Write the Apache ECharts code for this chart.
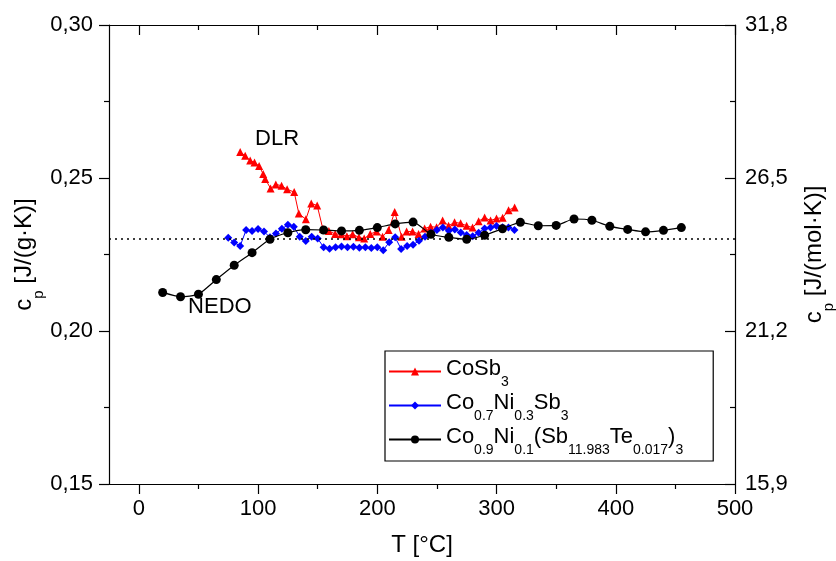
<!DOCTYPE html>
<html>
<head>
<meta charset="utf-8">
<script src="https://cdn.jsdelivr.net/npm/echarts@6/dist/echarts.min.js"></script>
<style>html,body{margin:0;padding:0;background:#fff}#c{width:836px;height:561px}</style>
</head>
<body>
<div id="c"></div>
<script>
// ---- data ----
const xTicks = [0, 100, 200, 300, 400, 500];
const xMinorTicks = [50, 150, 250, 350, 450];

const cosb3T = [85.0, 89.2, 93.4, 97.0, 100.9, 104.3, 106.0, 110.5, 114.9, 119.7, 124.4, 130.3, 134.2, 140.1, 144.6, 149.6, 154.4, 159.4, 164.7, 169.7, 174.5, 179.3, 184.6, 189.0, 194.1, 199.4, 204.4, 209.5, 214.6, 220.4, 224.6, 229.6, 234.6, 239.7, 244.7, 249.7, 254.8, 259.8, 264.8, 269.9, 274.9, 279.9, 285.0, 290.0, 295.0, 300.0, 305.1, 310.1, 315.2];
const cosb3Cp = [0.2585, 0.2573, 0.2557, 0.2551, 0.2539, 0.2513, 0.2497, 0.2466, 0.2479, 0.2475, 0.2463, 0.2454, 0.2384, 0.2365, 0.2417, 0.2410, 0.2333, 0.2327, 0.2317, 0.2316, 0.2310, 0.2316, 0.2306, 0.2302, 0.2317, 0.2325, 0.2308, 0.2330, 0.2389, 0.2308, 0.2325, 0.2325, 0.2317, 0.2335, 0.2341, 0.2339, 0.2361, 0.2344, 0.2355, 0.2352, 0.2344, 0.2338, 0.2359, 0.2371, 0.2361, 0.2368, 0.2370, 0.2395, 0.2404];

const niT = [75, 80, 85, 90, 95, 100, 105, 110, 115, 120, 125, 130, 135, 140, 145, 150, 155, 160, 165, 170, 175, 180, 185, 190, 195, 200, 205, 210, 215, 220, 225, 230, 235, 240, 245, 250, 255, 260, 265, 270, 275, 280, 285, 290, 295, 300, 305, 310, 315];
const niCp = [0.2305, 0.2289, 0.2278, 0.2330, 0.2327, 0.2333, 0.2325, 0.2306, 0.2319, 0.2334, 0.2347, 0.2341, 0.2308, 0.2294, 0.2308, 0.2302, 0.2274, 0.2269, 0.2274, 0.2276, 0.2274, 0.2275, 0.2272, 0.2274, 0.2271, 0.2274, 0.2264, 0.2290, 0.2306, 0.2268, 0.2278, 0.2282, 0.2295, 0.2308, 0.2321, 0.2330, 0.2338, 0.2328, 0.2332, 0.2322, 0.2314, 0.2310, 0.2321, 0.2335, 0.2338, 0.2343, 0.2339, 0.2338, 0.2330];

const teT = [20, 35, 50, 65, 80, 95, 110, 125, 140, 155, 170, 185, 200, 215, 230, 245, 260, 275, 290, 305, 320, 335, 350, 365, 380, 395, 410, 425, 440, 455];
const teCp = [0.2126, 0.2112, 0.2120, 0.2168, 0.2215, 0.2256, 0.2300, 0.2321, 0.2331, 0.2330, 0.2327, 0.2329, 0.2338, 0.2350, 0.2356, 0.2316, 0.2306, 0.2300, 0.2313, 0.2334, 0.2355, 0.2344, 0.2345, 0.2366, 0.2362, 0.2342, 0.2332, 0.2324, 0.2329, 0.2338];

const refLine = 0.23;
const annotations = [{ text: 'DLR', T: 116, cp: 0.2627 }, { text: 'NEDO', T: 68, cp: 0.2078 }];

const names = ['CoSb3', 'Co0.7Ni0.3Sb3', 'Co0.9Ni0.1(Sb11.983Te0.017)3'];
const legendRich = {
  'CoSb3': '{n|CoSb}{s|3}',
  'Co0.7Ni0.3Sb3': '{n|Co}{s|0.7}{n|Ni}{s|0.3}{n|Sb}{s|3}',
  'Co0.9Ni0.1(Sb11.983Te0.017)3': '{n|Co}{s|0.9}{n|Ni}{s|0.1}{n|(Sb}{s|11.983}{n|Te}{s|0.017}{n|)}{s|3}'
};

const zip = (a, b) => a.map((v, i) => [v, b[i]]);
const FONT = 'Liberation Sans, Arial, sans-serif';
const FS = 22;

const chart = echarts.init(document.getElementById('c'));
function makeRich(fs, sfs, drop) {
  const lh = Math.round(fs * 1.24);
  const base = lh / 2 + 0.3465 * fs;           // main baseline from line top
  const subCenter = base + drop + 0.716 * sfs - 0.3465 * sfs; // sub digit top near main baseline
  return {
    n: { fontSize: fs, fontFamily: FONT, color: '#000', lineHeight: lh, verticalAlign: 'top' },
    s: { fontSize: sfs, fontFamily: FONT, color: '#000', lineHeight: sfs, verticalAlign: 'top', padding: [Math.round(subCenter - sfs / 2), 0, 0, 0] }
  };
}
const nameRich = makeRich(24, 15, -2);
const legRich = makeRich(22, 14, -2);

const baseX = {
  type: 'value', min: -25, max: 500, splitLine: { show: false },
  axisLine: { show: false, lineStyle: { color: '#000', width: 1.2 } },
  axisLabel: { show: false }, axisTick: { show: false }
};

chart.setOption({
  animation: false,
  backgroundColor: '#fff',
  grid: { left: 109, right: 101, top: 25, bottom: 77, containLabel: false, outerBoundsMode: 'none' },
  xAxis: [
    Object.assign({}, baseX, {
      position: 'bottom', name: 'T [°C]', nameLocation: 'middle', nameGap: 49,
      nameTextStyle: { fontSize: 24, fontFamily: FONT, color: '#000' },
      axisLine: { show: true, onZero: false, lineStyle: { color: '#000', width: 1.2 } },
      axisTick: { show: true, inside: false, length: 10, customValues: xTicks, lineStyle: { color: '#000', width: 1.2 } },
      axisLabel: { show: true, customValues: xTicks, margin: 14, fontSize: FS, fontFamily: FONT, color: '#000' }
    }),
    Object.assign({}, baseX, {
      position: 'bottom',
      axisTick: { show: true, inside: false, length: 5, customValues: xMinorTicks, lineStyle: { color: '#000', width: 1.2 } }
    }),
    Object.assign({}, baseX, {
      position: 'top',
      axisLine: { show: true, onZero: false, lineStyle: { color: '#000', width: 1.2 } },
      axisTick: { show: true, inside: true, length: 10, customValues: xTicks, lineStyle: { color: '#000', width: 1.2 } }
    }),
    Object.assign({}, baseX, {
      position: 'top',
      axisTick: { show: true, inside: true, length: 5, customValues: xMinorTicks, lineStyle: { color: '#000', width: 1.2 } }
    })
  ],
  yAxis: [
    {
      type: 'value', min: 0.15, max: 0.30, interval: 0.05, position: 'left',
      name: '{n|c}{s|p}{n| [J/(g·K)]}', nameLocation: 'middle', nameGap: 67, nameRotate: 90,
      nameMoveOverlap: false,
      nameTextStyle: { rich: nameRich },
      splitLine: { show: false },
      axisLine: { show: true, onZero: false, lineStyle: { color: '#000', width: 1.2 } },
      axisTick: { show: true, inside: false, length: 10, lineStyle: { color: '#000', width: 1.2 } },
      minorTick: { show: true, splitNumber: 2, length: 5, lineStyle: { color: '#000', width: 1.2 } },
      axisLabel: { margin: 16, fontSize: FS, fontFamily: FONT, color: '#000', formatter: v => v.toFixed(2).replace('.', ',') }
    },
    {
      type: 'value', min: 15.9, max: 31.8, interval: 5.3, position: 'right',
      name: '{n|c}{s|p}{n| [J/(mol·K)]}', nameLocation: 'middle', nameGap: 67, nameRotate: 90,
      nameMoveOverlap: false,
      nameTextStyle: { rich: nameRich },
      splitLine: { show: false },
      axisLine: { show: true, onZero: false, lineStyle: { color: '#000', width: 1.2 } },
      axisTick: { show: true, inside: true, length: 10, lineStyle: { color: '#000', width: 1.2 } },
      minorTick: { show: true, splitNumber: 2, length: 5, lineStyle: { color: '#000', width: 1.2 } },
      axisLabel: { margin: 10, fontSize: FS, fontFamily: FONT, color: '#000', formatter: v => v.toFixed(1).replace('.', ',') }
    }
  ],
  legend: {
    left: 385, top: 351, orient: 'vertical',
    data: names,
    backgroundColor: '#fff',
    borderColor: '#000', borderWidth: 1.2,
    padding: [7, 30, 4, 3],
    itemGap: 3, itemWidth: 52, itemHeight: 10,
    formatter: n => legendRich[n],
    textStyle: { rich: legRich }
  },
  series: [
    {
      name: names[0], type: 'line', data: zip(cosb3T, cosb3Cp),
      symbol: 'triangle', symbolSize: 8, color: '#ff0000',
      lineStyle: { width: 1, color: '#ff0000' }, itemStyle: { color: '#ff0000' }, z: 2
    },
    {
      name: names[1], type: 'line', data: zip(niT, niCp),
      symbol: 'diamond', symbolSize: 8, color: '#0000ff',
      lineStyle: { width: 1, color: '#0000ff' }, itemStyle: { color: '#0000ff' }, z: 3
    },
    {
      name: names[2], type: 'line', data: zip(teT, teCp), smooth: 0.2,
      symbol: 'circle', symbolSize: 9, color: '#000',
      lineStyle: { width: 1.2, color: '#000' }, itemStyle: { color: '#000' }, z: 4,
      markLine: {
        silent: true, symbol: 'none', label: { show: false },
        lineStyle: { type: [2, 4], color: '#000', width: 1.5 },
        data: [{ yAxis: refLine }]
      },
      markPoint: {
        silent: true, symbol: 'circle', symbolSize: 1,
        itemStyle: { color: 'rgba(0,0,0,0)' },
        label: { show: true, position: 'inside', fontSize: FS, fontFamily: FONT, color: '#000', formatter: p => p.name },
        data: annotations.map(a => ({ name: a.text, coord: [a.T, a.cp] }))
      }
    }
  ]
});
</script>
</body>
</html>
